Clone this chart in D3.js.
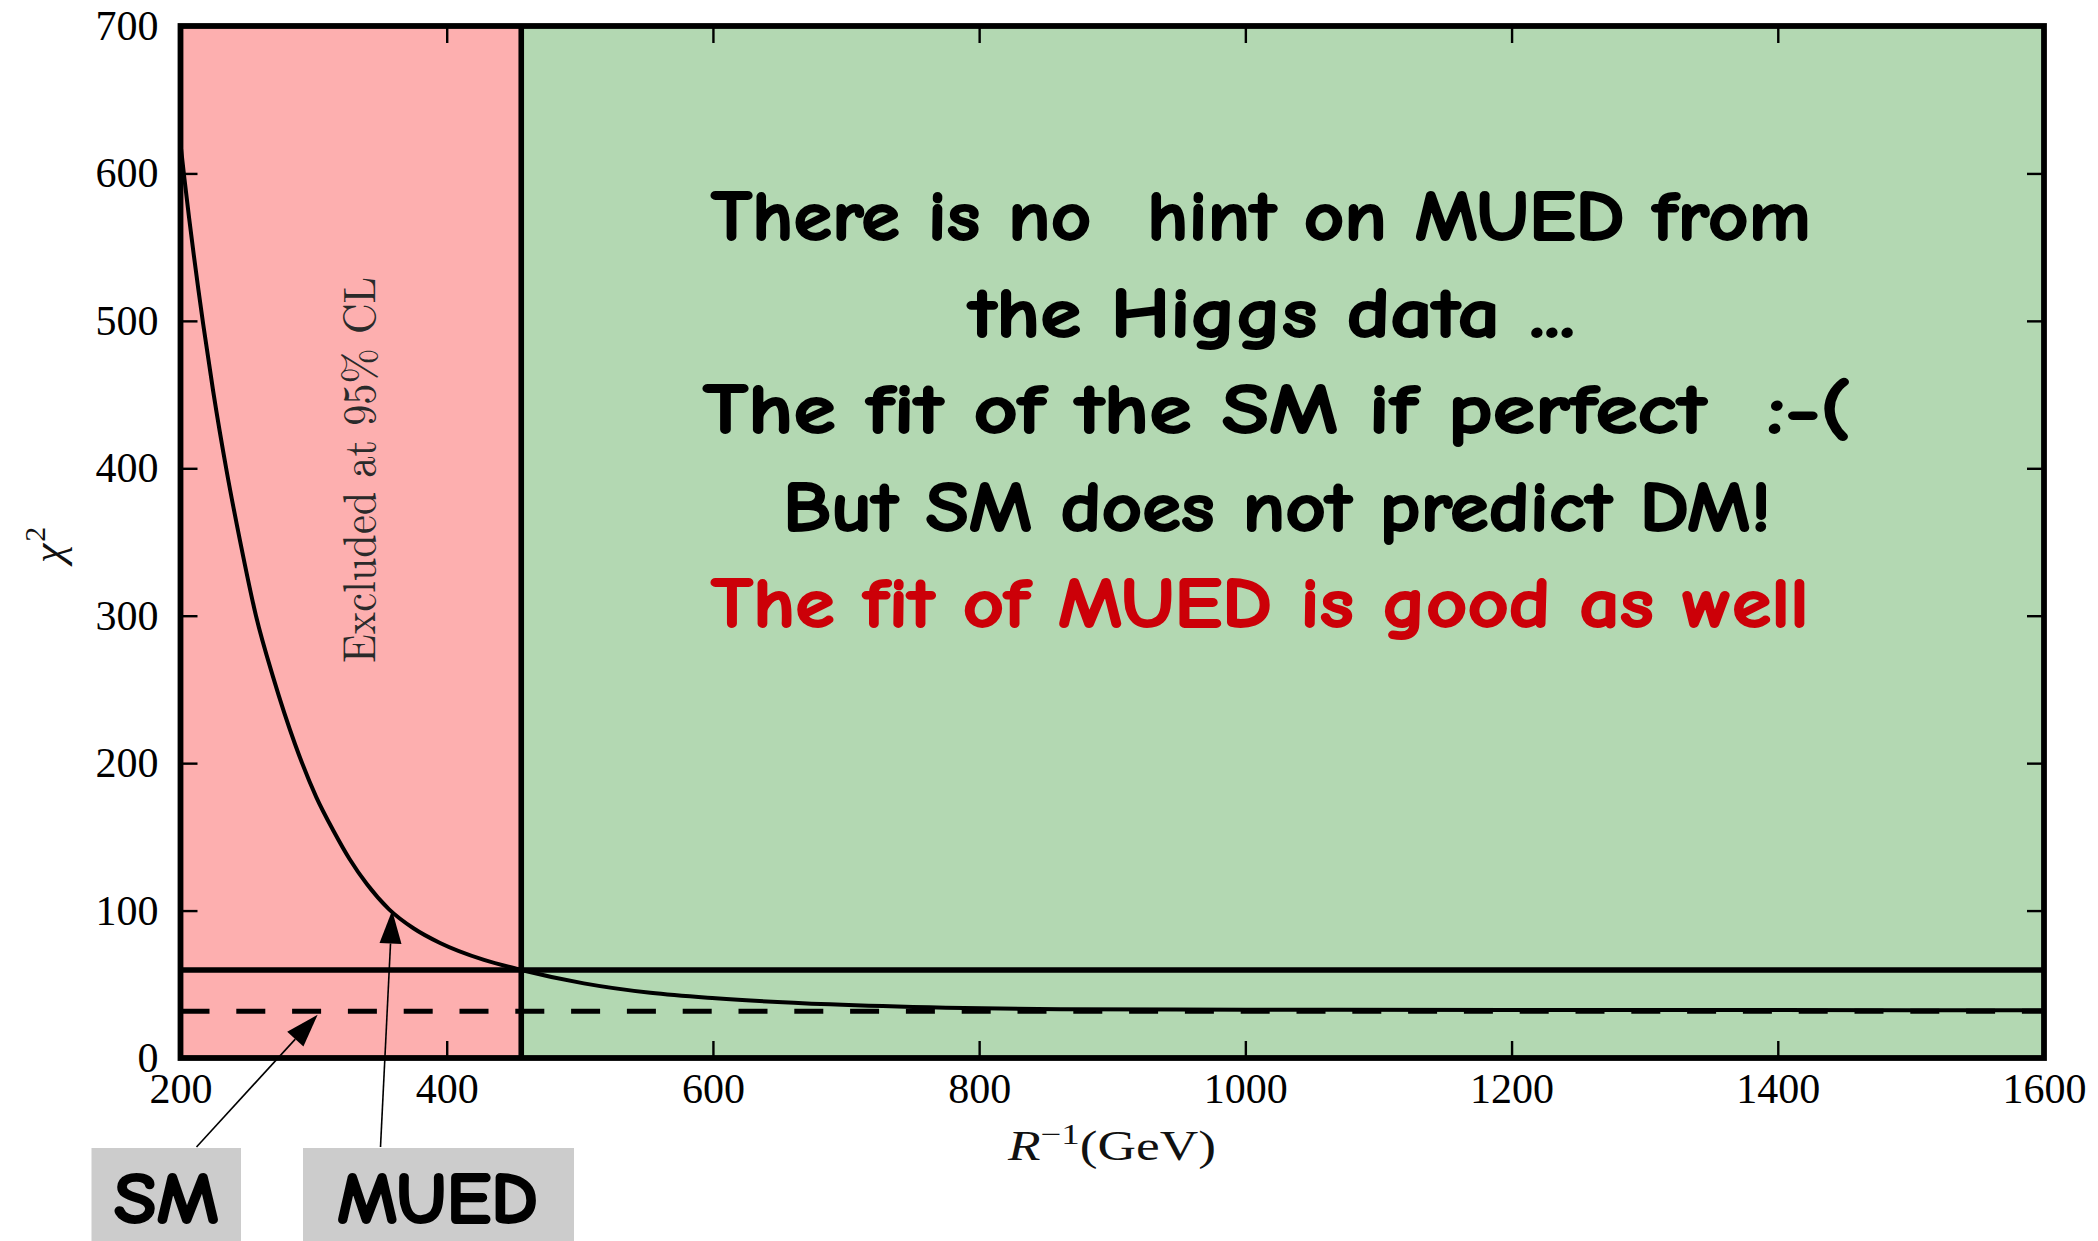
<!DOCTYPE html>
<html>
<head>
<meta charset="utf-8">
<script src="https://cdn.jsdelivr.net/npm/d3@7"></script>
<style>
  html, body { margin: 0; padding: 0; background: #ffffff; }
  svg { display: block; }
  .pre { white-space: pre; }
</style>
</head>
<body>
<svg id="chart" width="2098" height="1241"></svg>
<script>
// ---------------- data ----------------
const xDomain = [200, 1600];
const yDomain = [0, 700];
const xTicks = [200, 400, 600, 800, 1000, 1200, 1400, 1600];
const yTicks = [0, 100, 200, 300, 400, 500, 600, 700];

// MUED chi^2 curve (R^-1 in GeV, chi^2)
const curveR    = [200, 203, 217, 224.6, 234.7, 244.7, 256.7, 269.7, 286, 302, 315, 327, 340, 356.5, 375, 395, 428, 456, 503, 553, 602, 688, 775, 861, 1000, 1200, 1400, 1600];
const curveChi2 = [620, 596, 498, 452, 398, 351, 300, 258, 213, 177, 154, 135, 118, 101, 88, 78, 66.5, 59.7, 50.6, 44.2, 40.5, 36.4, 34.1, 33.1, 32.8, 32.6, 32.5, 32.4];

const smChi2 = 31.7;          // SM chi^2 (dashed)
const cl95Chi2 = 59.7;        // 95% CL line (solid)
const excludedLimit = 456;    // R^-1 excluded below this value

const xLabel = ["R", "\u22121", "(GeV)"];
const yLabel = ["\u03C7", "2"];
const excludedText = "Excluded at 95% CL";

const messageLines = [
  "There is no  hint on MUED from",
  "the Higgs data ...",
  "The fit of the SM if perfect  :-(",
  "But SM does not predict DM!",
  "The fit of MUED is good as well"
];
const messageColors = ["#000000", "#000000", "#000000", "#000000", "#cc0008"];

const boxLabels = ["SM", "MUED"];
// arrow targets in data coordinates
const arrowTargets = [[303, 29.3], [359, 100]];

// ---------------- layout ----------------
const W = 2098, H = 1241;
const plot = { left: 180.5, right: 2044, top: 26, bottom: 1058 };

const svg = d3.select("#chart");
const x = d3.scaleLinear().domain(xDomain).range([plot.left, plot.right]);
const y = d3.scaleLinear().domain(yDomain).range([plot.bottom, plot.top]);

svg.append("rect").attr("x", 0).attr("y", 0).attr("width", W).attr("height", H).attr("fill", "#fff");

svg.append("defs").append("clipPath").attr("id", "clip")
  .append("rect").attr("x", plot.left).attr("y", plot.top)
  .attr("width", plot.right - plot.left).attr("height", plot.bottom - plot.top);

const area = svg.append("g").attr("clip-path", "url(#clip)");

// shaded regions
area.append("rect")
  .attr("x", x(xDomain[0])).attr("y", y(yDomain[1]))
  .attr("width", x(excludedLimit) - x(xDomain[0]))
  .attr("height", y(yDomain[0]) - y(yDomain[1]))
  .attr("fill", "#fdafaf");
area.append("rect")
  .attr("x", x(excludedLimit)).attr("y", y(yDomain[1]))
  .attr("width", x(xDomain[1]) - x(excludedLimit))
  .attr("height", y(yDomain[0]) - y(yDomain[1]))
  .attr("fill", "#b3d8b2");

// SM dashed line
area.append("line")
  .attr("x1", x(xDomain[0])).attr("x2", x(xDomain[1]))
  .attr("y1", y(smChi2)).attr("y2", y(smChi2))
  .attr("stroke", "#000").attr("stroke-width", 5)
  .attr("stroke-dasharray", "29,26.8");

// 95% CL solid line
area.append("line")
  .attr("x1", x(xDomain[0])).attr("x2", x(xDomain[1]))
  .attr("y1", y(cl95Chi2)).attr("y2", y(cl95Chi2))
  .attr("stroke", "#000").attr("stroke-width", 5.6);

// curve
const pts = curveR.map((r, i) => [r, curveChi2[i]]);
area.append("path")
  .datum(pts)
  .attr("d", d3.line().x(d => x(d[0])).y(d => y(d[1])).curve(d3.curveMonotoneX))
  .attr("fill", "none").attr("stroke", "#000").attr("stroke-width", 4)
  .attr("stroke-linejoin", "round");

// vertical exclusion boundary
area.append("line")
  .attr("x1", x(excludedLimit)).attr("x2", x(excludedLimit))
  .attr("y1", y(yDomain[0])).attr("y2", y(yDomain[1]))
  .attr("stroke", "#000").attr("stroke-width", 5.6);

// Excluded text (rotated)
svg.append("text")
  .attr("transform", `translate(375,663) rotate(-90)`)
  .attr("font-family", "'Latin Modern Roman','Liberation Serif','Times New Roman',serif")
  .attr("font-size", 46)
  .attr("fill", "#2a2a2a")
  .attr("textLength", 386).attr("lengthAdjust", "spacingAndGlyphs")
  .text(excludedText);

// big message text
const msgFont = "'Comic Sans MS','Comic Neue','Open Sans','Noto Sans',sans-serif";
const msgBaselines = [240, 337, 433, 531, 627];
const msgLeft = [711, 969, 703, 783, 711];
const msgWidth = [1100, 606, 1148, 988, 1098];
messageLines.forEach((t, i) => {
  svg.append("text")
    .attr("class", "pre")
    .attr("x", msgLeft[i]).attr("y", msgBaselines[i])
    .attr("font-family", msgFont).attr("font-weight", 700)
    .attr("font-size", 70)
    .attr("fill", messageColors[i])
    .attr("stroke", messageColors[i]).attr("stroke-width", 1.8).attr("stroke-linejoin", "round")
    .attr("textLength", msgWidth[i]).attr("lengthAdjust", "spacingAndGlyphs")
    .text(t);
});

// ---------------- axes ----------------
const tickFont = "'Liberation Serif','Times New Roman',serif";
function styleAxis(g) {
  g.select(".domain").remove();
  g.selectAll(".tick line").attr("stroke", "#000").attr("stroke-width", 2.4);
  g.selectAll(".tick text").attr("font-family", tickFont).attr("font-size", 42).attr("fill", "#000");
}

svg.append("g")
  .attr("transform", `translate(0,${plot.bottom})`)
  .call(d3.axisBottom(x).tickValues(xTicks).tickSize(-17).tickPadding(15).tickFormat(d3.format("d")))
  .call(styleAxis);

svg.append("g")
  .attr("transform", `translate(0,${plot.top})`)
  .call(d3.axisTop(x).tickValues(xTicks).tickSize(-17).tickFormat(""))
  .call(styleAxis);

svg.append("g")
  .attr("transform", `translate(${plot.left},0)`)
  .call(d3.axisLeft(y).tickValues(yTicks).tickSize(-17).tickPadding(22).tickFormat(d3.format("d")))
  .call(styleAxis);

svg.append("g")
  .attr("transform", `translate(${plot.right},0)`)
  .call(d3.axisRight(y).tickValues(yTicks).tickSize(-17).tickFormat(""))
  .call(styleAxis);

// frame
svg.append("rect")
  .attr("x", plot.left).attr("y", plot.top)
  .attr("width", plot.right - plot.left).attr("height", plot.bottom - plot.top)
  .attr("fill", "none").attr("stroke", "#000").attr("stroke-width", 5.8);

// axis labels
const xl = svg.append("text")
  .attr("x", 1008).attr("y", 1160)
  .attr("font-family", tickFont).attr("font-size", 42).attr("fill", "#111")
  .attr("textLength", 208).attr("lengthAdjust", "spacingAndGlyphs");
xl.append("tspan").attr("font-style", "italic").text(xLabel[0]);
xl.append("tspan").attr("font-size", 29).attr("dy", -16).text(xLabel[1]);
xl.append("tspan").attr("dy", 16).text(xLabel[2]);

const yl = svg.append("text")
  .attr("transform", "translate(63,563) rotate(-90)")
  .attr("font-family", tickFont).attr("font-size", 44).attr("fill", "#111");
yl.append("tspan").attr("font-style", "italic").text(yLabel[0]);
yl.append("tspan").attr("font-size", 30).attr("dy", -18).attr("dx", 2).text(yLabel[1]);

// ---------------- annotation boxes & arrows ----------------
const boxes = [
  { x0: 91.5, x1: 241, textX: 114, textW: 105, tail: [196.5, 1147] },
  { x0: 303, x1: 574, textX: 337, textW: 201, tail: [380.5, 1147] }
];
boxes.forEach((b, i) => {
  svg.append("rect")
    .attr("x", b.x0).attr("y", 1148).attr("width", b.x1 - b.x0).attr("height", H - 1148)
    .attr("fill", "#cccccc");
  svg.append("text")
    .attr("x", b.textX).attr("y", 1223)
    .attr("font-family", msgFont).attr("font-weight", 700).attr("font-size", 72)
    .attr("fill", "#000").attr("stroke", "#000").attr("stroke-width", 2).attr("stroke-linejoin", "round")
    .attr("textLength", b.textW).attr("lengthAdjust", "spacingAndGlyphs")
    .text(boxLabels[i]);

  const tip = [x(arrowTargets[i][0]), y(arrowTargets[i][1])];
  const tail = b.tail;
  const dx = tip[0] - tail[0], dy = tip[1] - tail[1];
  const len = Math.hypot(dx, dy);
  const ux = dx / len, uy = dy / len;
  const headL = 33, headW = 11;
  const base = [tip[0] - ux * headL, tip[1] - uy * headL];
  svg.append("line")
    .attr("x1", tail[0]).attr("y1", tail[1])
    .attr("x2", base[0]).attr("y2", base[1])
    .attr("stroke", "#000").attr("stroke-width", 1.6);
  const p1 = [base[0] - uy * headW, base[1] + ux * headW];
  const p2 = [base[0] + uy * headW, base[1] - ux * headW];
  svg.append("path")
    .attr("d", `M${tip[0]},${tip[1]}L${p1[0]},${p1[1]}L${p2[0]},${p2[1]}Z`)
    .attr("fill", "#000");
});
</script>
</body>
</html>
